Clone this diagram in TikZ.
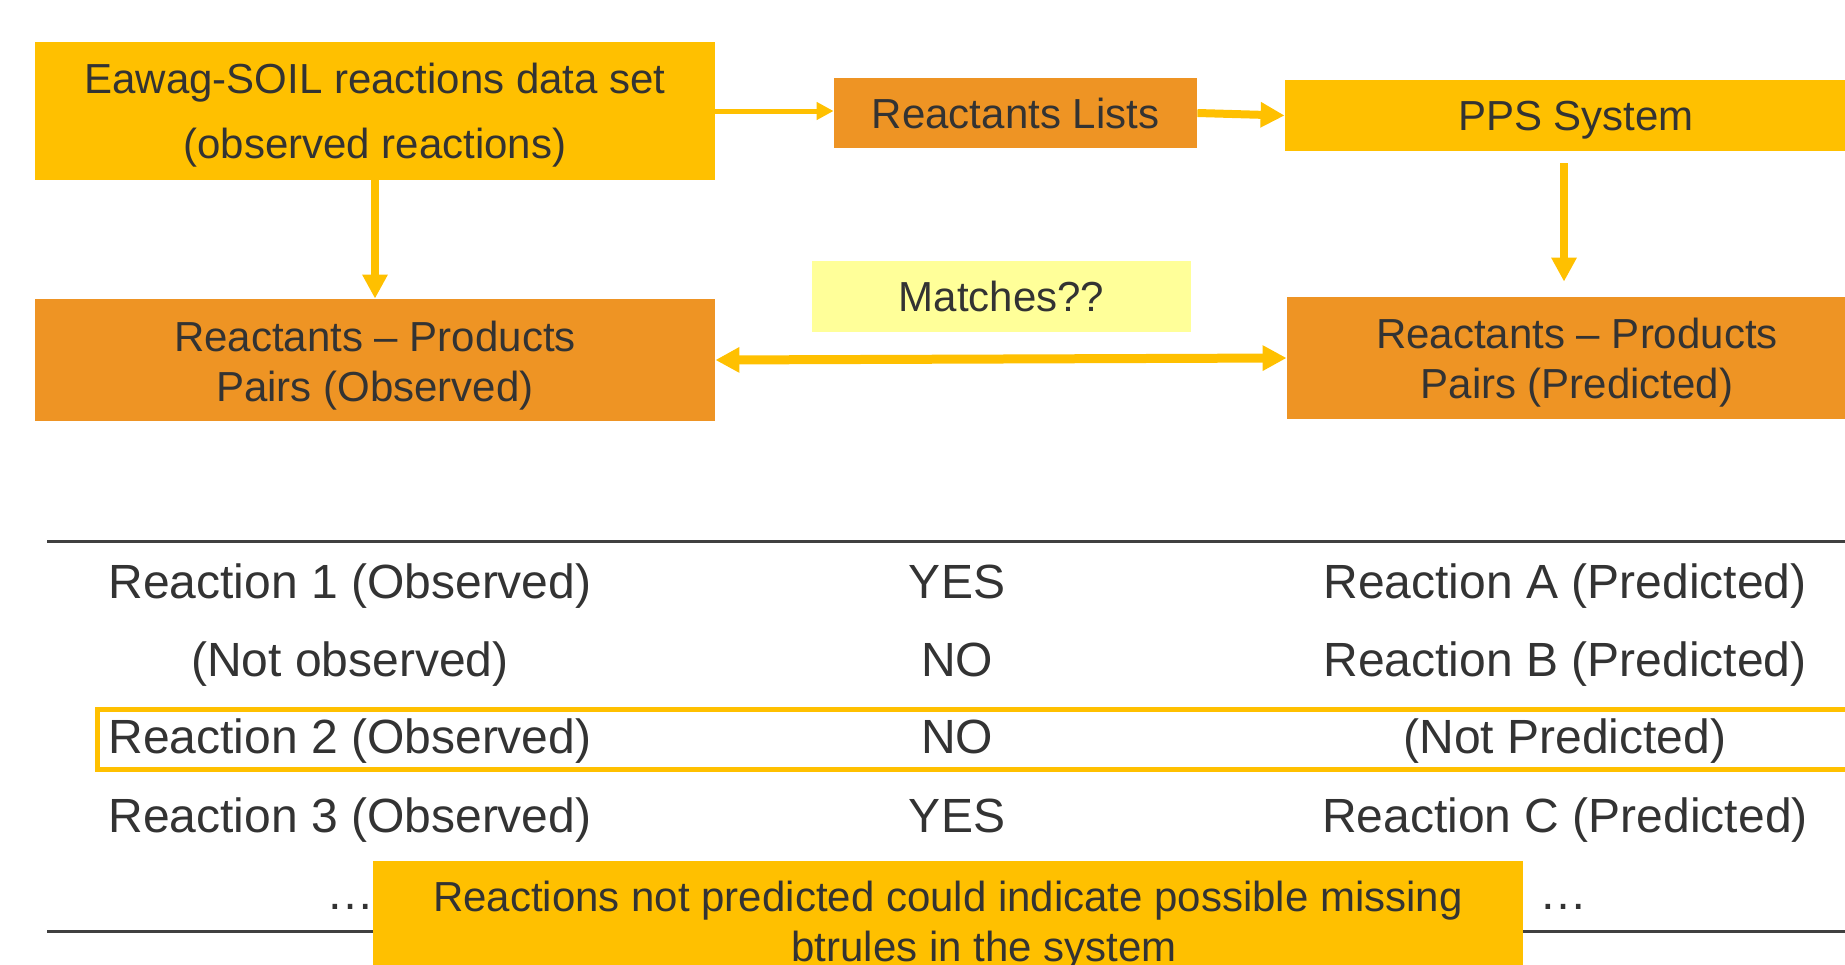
\documentclass[tikz,border=0pt]{standalone}
\usepackage{fontspec}
\setmainfont{Liberation Sans}
\usetikzlibrary{arrows.meta}

\definecolor{gold}{HTML}{FFC000}
\definecolor{amber}{HTML}{EE9424}
\definecolor{paleyellow}{HTML}{FFFF99}
\definecolor{ink}{HTML}{333333}
\definecolor{rulegray}{HTML}{404040}

% taller first line pushes a two-line text down in its box
\newcommand{\dropline}[1]{\rule{0pt}{#1}}

\begin{document}
\begin{tikzpicture}[x=0.5pt,y=-0.5pt,
    box/.style={inner sep=0pt,align=center,text=ink,font=\fontsize{21}{25}\selectfont},
    oneline/.style={text depth=0pt},
    goldbox/.style={box,fill=gold},
    orangebox/.style={box,fill=amber},
    flow/.style={draw=gold,line width=4pt,-{Triangle[length=12pt,width=12pt]}},
    thinflow/.style={draw=gold,line width=2.5pt,-{Triangle[length=8.5pt,width=8.5pt]}},
    cell/.style={anchor=base,inner sep=0pt,text=ink,font=\fontsize{24}{28}\selectfont}]
  \path[use as bounding box,clip] (0,0) rectangle (1845,964);

  % flow boxes
  \node[goldbox,minimum width=340pt,minimum height=69pt,font=\fontsize{21}{32.5}\selectfont]
    (soil) at (375,111) {\dropline{19pt}Eawag-SOIL reactions data set\\(observed reactions)};
  \node[orangebox,oneline,minimum width=181.5pt,minimum height=35pt] (lists) at (1015.5,113) {Reactants Lists};
  \node[goldbox,oneline,minimum width=291pt,minimum height=35.5pt] (pps) at (1576,115.5) {PPS System};
  \node[orangebox,minimum width=340pt,minimum height=61pt] (obs) at (375,360) {\dropline{21pt}Reactants – Products\\Pairs (Observed)};
  \node[orangebox,minimum width=290pt,minimum height=61pt] (pred) at (1577,358) {\dropline{19.5pt}Reactants – Products\\Pairs (Predicted)};
  \node[box,oneline,fill=paleyellow,minimum width=189.5pt,minimum height=35.5pt] (match) at (1001.5,296.5) {Matches??};

  % arrows
  \draw[thinflow] (soil.east) -- (soil.east -| lists.west);
  \draw[flow] (lists.east) -- (pps.west);
  \draw[flow] (soil.south) -- (obs.north);
  \draw[flow,shorten <=6pt,shorten >=7.5pt] ([xshift=-6pt]pps.south) -- ([xshift=-6pt]pps.south |- pred.north);
  \draw[flow,line width=4.5pt,{Triangle[length=12pt,width=12pt]}-{Triangle[length=12pt,width=12pt]}] (obs.east) -- (pred.west);

  % comparison table
  \draw[rulegray,line width=1.5pt] (47,541) -- (1845,541);
  \draw[rulegray,line width=1.5pt] (47,931) -- (1845,931);
  \draw[gold,line width=2.5pt] (97.5,709.5) rectangle (1870,769.5);
  \foreach \obs/\ans/\pred/\yy [count=\i] in {%
      {Reaction 1 (Observed)}/YES/{Reaction A (Predicted)}/598,
      {(Not observed)}/NO/{Reaction B (Predicted)}/676,
      {Reaction 2 (Observed)}/NO/{(Not Predicted)}/753,
      {Reaction 3 (Observed)}/YES/{Reaction C (Predicted)}/832} {%
    \node[cell] (obs\i) at (350,\yy) {\obs};
    \node[cell] (ans\i) at (957,\yy) {\ans};
    \node[cell] (pred\i) at (1565,\yy) {\pred};
  }
  \node[cell] (more1) at (350,909) {…};
  \node[cell] (more3) at (1563,909) {…};

  % note over the table
  \node[goldbox,anchor=north,minimum width=575pt,inner ysep=9.8pt] (note) at (948,861)
    {Reactions not predicted could indicate possible missing\\\hspace*{36pt}btrules in the system};
\end{tikzpicture}
\end{document}
